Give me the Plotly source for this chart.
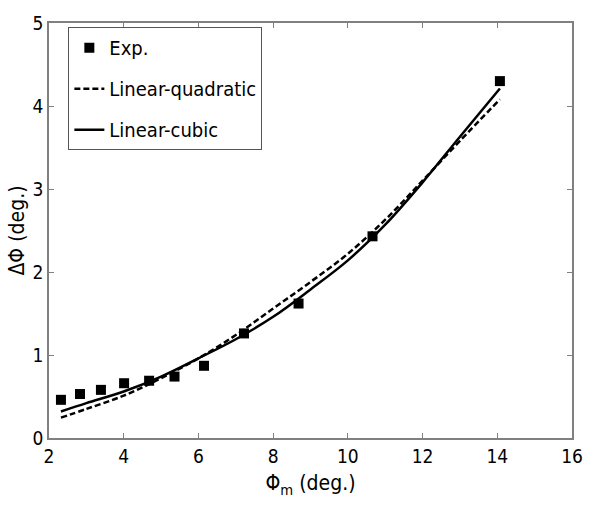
import plotly.graph_objects as go

# Experimental points
exp_x = [2.32, 2.83, 3.39, 4.01, 4.68, 5.36, 6.15, 7.22, 8.68, 10.66, 14.07]
exp_y = [0.46, 0.53, 0.58, 0.66, 0.69, 0.74, 0.87, 1.26, 1.62, 2.43, 4.30]

# Fitted curves
fit_x = [2.32, 3, 4, 5, 6, 7, 8, 9, 10, 11, 12, 13, 14.07]
quad_y = [0.245, 0.35, 0.51, 0.72, 0.96, 1.24, 1.56, 1.88, 2.22, 2.63, 3.10, 3.58, 4.08]
cubic_y = [0.32, 0.42, 0.56, 0.74, 0.96, 1.19, 1.46, 1.79, 2.14, 2.57, 3.08, 3.63, 4.21]

x_ticks = [2, 4, 6, 8, 10, 12, 14, 16]
y_ticks = [0, 1, 2, 3, 4, 5]

FONT = "DejaVu Sans Condensed, Liberation Sans, Arial, sans-serif"

fig = go.Figure()
fig.add_trace(go.Scatter(
    x=exp_x, y=exp_y, mode="markers", name="Exp.", legendgroup="a",
    marker=dict(symbol="square", size=10, color="black"),
))
fig.add_trace(go.Scatter(
    x=fit_x, y=quad_y, mode="lines", name="Linear-quadratic", legendgroup="b",
    line=dict(color="black", width=2.5, dash="6px,3px", shape="spline"),
))
fig.add_trace(go.Scatter(
    x=fit_x, y=cubic_y, mode="lines", name="Linear-cubic", legendgroup="c",
    line=dict(color="black", width=2.5, shape="spline"),
))

axis_common = dict(
    showline=True, linecolor="#808080", linewidth=1.5, mirror="ticks",
    ticks="inside", ticklen=5, tickcolor="#808080", tickwidth=1,
    showgrid=False, zeroline=False,
    tickfont=dict(family=FONT, size=19, color="black"),
)

fig.update_layout(
    width=595, height=506,
    margin=dict(l=49, r=12, t=16, b=68),
    paper_bgcolor="white", plot_bgcolor="white",
    showlegend=True,
    legend=dict(
        x=0.037, y=0.99, xanchor="left", yanchor="top",
        bordercolor="#555555", borderwidth=1, bgcolor="white",
        font=dict(family=FONT, size=20, color="black"),
        tracegroupgap=12,
    ),
    xaxis=dict(
        range=[2, 16], tickvals=x_ticks, ticktext=[str(v) for v in x_ticks],
        title=dict(text="Φ<sub>m</sub> (deg.)", font=dict(family=FONT, size=21, color="black"), standoff=10),
        **axis_common,
    ),
    yaxis=dict(
        range=[0, 5], tickvals=y_ticks, ticktext=[str(v) for v in y_ticks],
        title=dict(text="ΔΦ (deg.)", font=dict(family=FONT, size=21, color="black"), standoff=2),
        **axis_common,
    ),
)

fig.write_html("out.html")
